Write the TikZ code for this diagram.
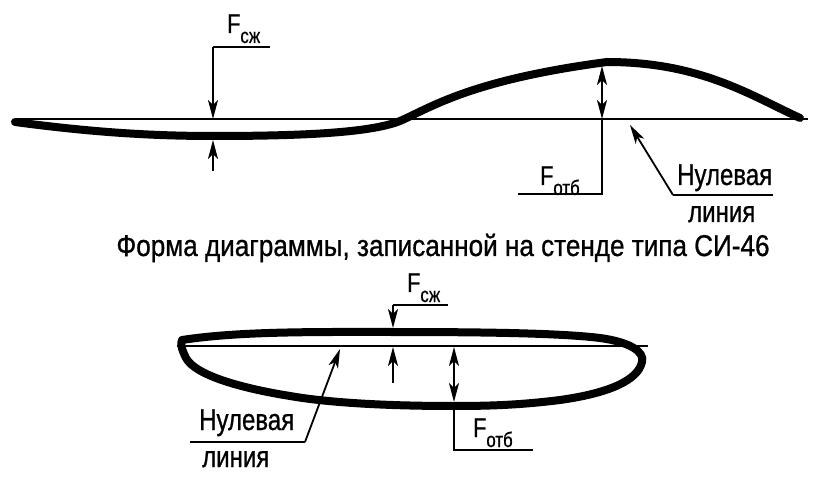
\documentclass[tikz,border=0pt]{standalone}
\usepackage{fontspec}
\setmainfont{Liberation Sans}[FakeStretch=0.8,FakeBold=0.8]
\newfontfamily\titlefont{Liberation Sans}[FakeStretch=0.87,FakeBold=0.8]
\usepackage{tikz}
\usetikzlibrary{arrows.meta}

\newcommand{\flabel}[1]{F\raisebox{-10pt}{\fontsize{21}{21}\selectfont #1}}

\begin{document}
\begin{tikzpicture}[x=1pt,y=-1pt,
  curva/.style={line width=8pt,line cap=round,line join=round},
  fina/.style={line width=1.8pt},
  seta/.style={fina,-{Stealth[length=19pt,width=10pt,inset=5pt]}},
  setadupla/.style={fina,{Stealth[length=19pt,width=10pt,inset=5pt]}-{Stealth[length=19pt,width=10pt,inset=5pt]}},
  rotulo/.style={inner sep=0pt,anchor=base west,font=\fontsize{27}{30}\selectfont},
  texto/.style={inner sep=0pt,anchor=base west,font=\fontsize{30}{34}\selectfont}]

\useasboundingbox (0,0) rectangle (819,478);

% Linha zero (diagrama de cima)
\coordinate (z1a) at (15,119);
\coordinate (z1b) at (808,119);
\draw[fina] (z1a) -- (z1b);

% Diagrama do stand SI-46
\draw[curva] (15,122) .. controls (90,132) and (150,136) .. (213,136)
  .. controls (300,136) and (370,133) .. (400,121)
  .. controls (430,108) and (470,80) .. (607,62)
  .. controls (700,62) and (750,95) .. (800,118);

% F compressao (cima)
\coordinate (c1a) at (270,47);
\coordinate (c1b) at (213,47);
\coordinate (c1c) at (213,119);
\coordinate (c1d) at (213,171);
\coordinate (c1e) at (213,140);
\draw[fina] (c1a) -- (c1b);
\draw[seta] (c1b) -- (c1c);
\draw[seta] (c1d) -- (c1e);
\node[rotulo] (fc1) at (227,33) {\flabel{сж}};

% F distensao (cima)
\coordinate (d1a) at (602,66);
\coordinate (d1b) at (602,119);
\coordinate (d1c) at (602,194);
\coordinate (d1d) at (518,194);
\draw[setadupla] (d1a) -- (d1b);
\draw[fina] (d1b) -- (d1c) -- (d1d);
\node[rotulo] (fd1) at (540,185) {\flabel{отб}};

% Linha zero - indicacao (cima)
\coordinate (n1a) at (773,195);
\coordinate (n1b) at (673,195);
\coordinate (n1c) at (630,125);
\draw[fina] (n1a) -- (n1b);
\draw[seta] (n1b) -- (n1c);
\node[texto] (nz1) at (677,185) {Нулевая};
\node[texto] (lz1) at (688,222) {линия};

% Titulo
\node[texto,anchor=base,font=\titlefont\fontsize{30}{34}\selectfont] (titulo) at (443,256) {Форма диаграммы, записанной на стенде типа СИ-46};

% Linha zero (diagrama de baixo)
\coordinate (z2a) at (177,346);
\coordinate (z2b) at (648,346);
\draw[fina] (z2a) -- (z2b);

% Diagrama fechado
\draw[curva] (182,340) .. controls (240,331) and (320,332) .. (393,332)
  .. controls (480,332) and (560,333) .. (600,338)
  .. controls (630,342) and (645,352) .. (642,362)
  .. controls (638,380) and (610,393) .. (560,400)
  .. controls (520,405) and (490,406) .. (453,406)
  .. controls (390,406) and (330,403) .. (290,396)
  .. controls (240,388) and (195,375) .. (186,358)
  .. controls (182,350) and (180,344) .. cycle;

% F compressao (baixo)
\coordinate (c2a) at (448,305);
\coordinate (c2b) at (393,305);
\coordinate (c2c) at (393,328);
\coordinate (c2d) at (393,383);
\coordinate (c2e) at (393,347);
\draw[fina] (c2a) -- (c2b);
\draw[seta] (c2b) -- (c2c);
\draw[seta] (c2d) -- (c2e);
\node[rotulo] (fc2) at (407,292) {\flabel{сж}};

% F distensao (baixo)
\coordinate (d2a) at (454,347);
\coordinate (d2b) at (454,402);
\coordinate (d2c) at (454,450);
\coordinate (d2d) at (533,450);
\draw[setadupla] (d2a) -- (d2b);
\draw[fina] (d2b) -- (d2c) -- (d2d);
\node[rotulo] (fd2) at (473,437) {\flabel{отб}};

% Linha zero - indicacao (baixo)
\coordinate (n2a) at (190,442);
\coordinate (n2b) at (305,442);
\coordinate (n2c) at (340,349);
\draw[fina] (n2a) -- (n2b);
\draw[seta] (n2b) -- (n2c);
\node[texto] (nz2) at (199,430) {Нулевая};
\node[texto] (lz2) at (202,467) {линия};

\end{tikzpicture}
\end{document}
